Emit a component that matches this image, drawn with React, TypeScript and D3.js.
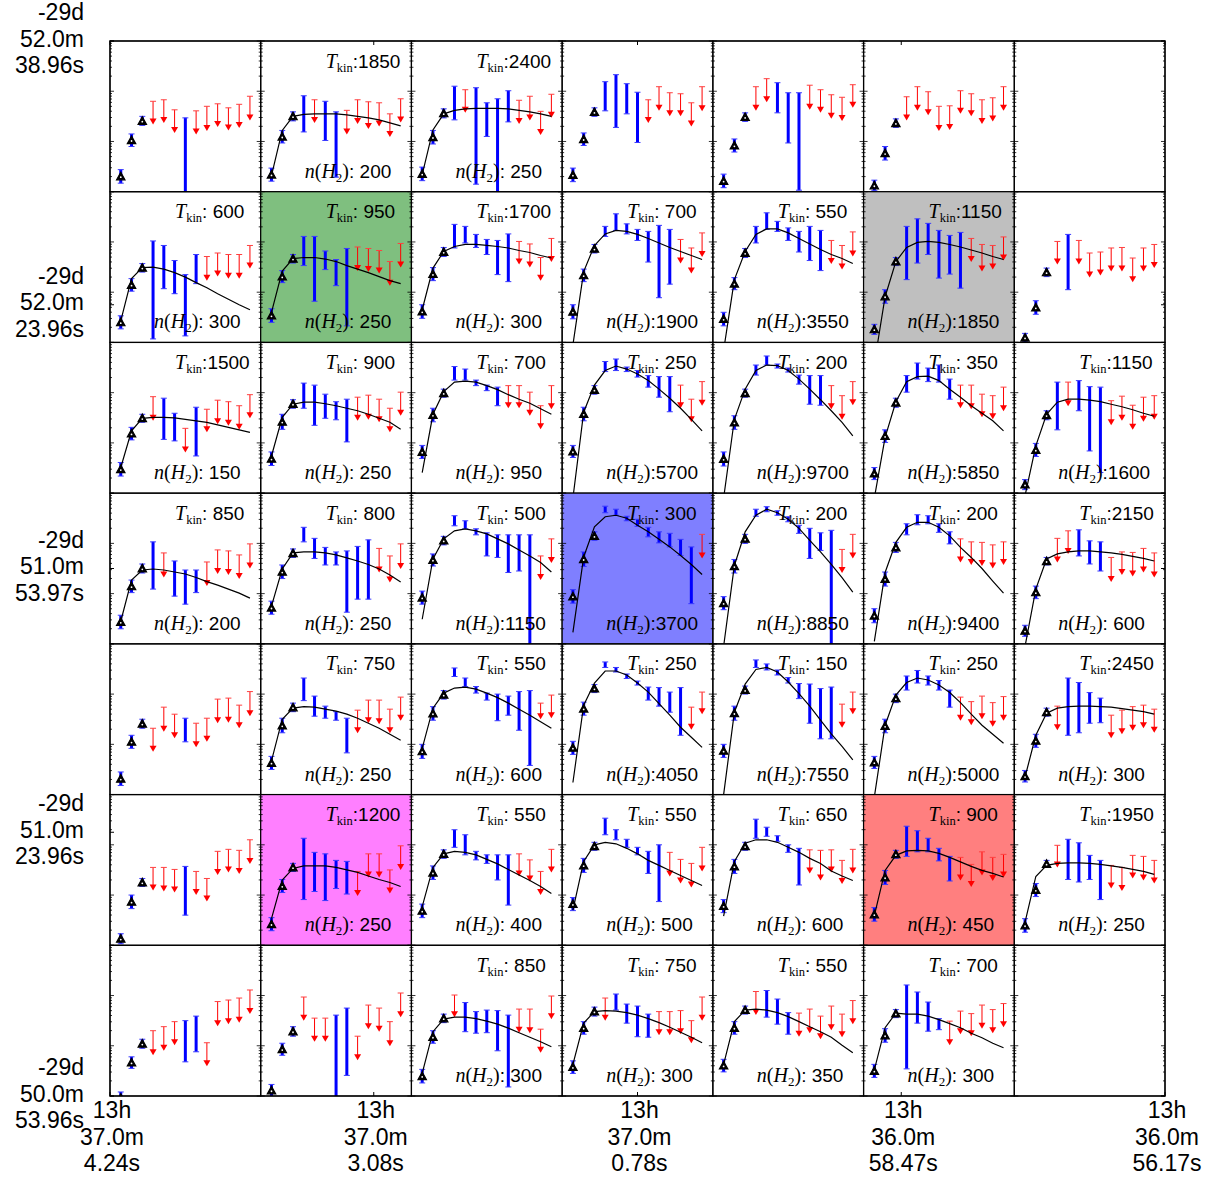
import React from 'react';
import * as d3 from 'd3';

// CO rotational ladder J_up = 1..13 in every panel
const jUp = d3.range(1, 14);

// Fitted parameters per panel (row-major, 7x7), null = no fit
const tkin: (number | null)[] = [
  null, 1850, 2400, null, null, null, null,
  600, 950, 1700, 700, 550, 1150, null,
  1500, 900, 700, 250, 200, 350, 1150,
  850, 800, 500, 300, 200, 200, 2150,
  null, 750, 550, 250, 150, 250, 2450,
  null, 1200, 550, 550, 650, 900, 1950,
  null, null, 850, 750, 550, 700, null,
];
const nh2: (number | null)[] = [
  null, 200, 250, null, null, null, null,
  300, 250, 300, 1900, 3550, 1850, null,
  150, 250, 950, 5700, 9700, 5850, 1600,
  200, 250, 1150, 3700, 8850, 9400, 600,
  null, 250, 600, 4050, 7550, 5000, 300,
  null, 250, 400, 500, 600, 450, 250,
  null, null, 300, 300, 350, 300, null,
];
// highlighted panels: g = green, k = grey, b = blue, m = magenta, r = red
const highlight: string[] = [
  '', '', '', '', '', '', '',
  '', 'g', '', '', '', 'k', '',
  '', '', '', '', '', '', '',
  '', '', '', 'b', '', '', '',
  '', '', '', '', '', '', '',
  '', 'm', '', '', '', 'r', '',
  '', '', '', '', '', '', '',
];
// d = detection, u = upper limit
const kinds: string[] = [
  'ddduuuduuuuuu', 'ddddudduuuuuu', 'ddddudddduuuu', 'ddddddduuuuuu', 'ddduuddduuuuu', 'ddduuuuuuuuuu', '',
  'dddddddduuuuu', 'dddddddduuuuu', 'ddddddddduuuu', 'dddddddddduuu', 'dddddddddduuu', 'ddddddddduuuu', 'ddduduuuuuuuu',
  'dddudduduuuuu', 'dddddddduuuuu', 'dddddddduuuuu', 'dddddddddduuu', 'dddddddddduuu', 'dddddddduuuuu', 'dddduddduuuuu',
  'dddduddduuuuu', 'dddddddddduuu', 'ddddddddddduu', 'ddddddddddddu', 'ddddddddddduu', 'dddddddduuuuu', 'ddduuddduuuuu',
  'ddduuuduuuuuu', 'dddddddduuuuu', 'ddddddddddduu', 'ddddddddddduu', 'ddddddddddduu', 'dddddddduuuuu', 'dddudddduuuuu',
  'ddduuuduuuuuu', 'dddddddduuuuu', 'ddddddddduuuu', 'ddddddddduuuu', 'dddddddduuuuu', 'dddddddduuuuu', 'dddudddduuuuu',
  'ddduuudduuuuu', 'ddduuudduuuuu', 'ddduddddduuuu', 'dddudddduuuuu', 'ddduddduuuuuu', 'ddddddduuuuuu', '',
];
// log10 of the lower end (error bar bottom / arrow tip)
const logLo: number[][] = [
  [-2.83,-2.10,-1.68,-1.66,-1.63,-1.83,-4,-1.86,-1.79,-1.71,-1.78,-1.73,-1.58],
  [-2.79,-2.03,-1.59,-1.81,-1.63,-1.98,-2.71,-1.86,-1.65,-1.75,-1.70,-1.91,-1.62],
  [-2.78,-2.05,-1.53,-1.57,-1.43,-2.85,-1.90,-4,-1.61,-1.65,-1.58,-1.87,-1.53],
  [-2.80,-2.08,-1.50,-1.39,-1.72,-1.45,-2.02,-1.63,-1.39,-1.50,-1.50,-1.70,-1.40],
  [-2.92,-2.21,-1.60,-1.39,-1.22,-1.43,-2.03,-2.97,-1.37,-1.43,-1.55,-1.59,-1.33],
  [-2.98,-2.37,-1.72,-1.58,-1.39,-1.48,-1.79,-1.77,-1.45,-1.50,-1.65,-1.60,-1.39],
  [],
  [-2.73,-1.98,-1.60,-2.93,-1.93,-2.03,-2.87,-1.83,-1.77,-1.69,-1.73,-1.73,-1.53],
  [-2.60,-1.81,-1.42,-1.47,-2.18,-1.55,-1.87,-2.67,-1.58,-1.60,-1.63,-1.87,-1.51],
  [-2.52,-1.77,-1.29,-1.12,-1.02,-1.11,-1.25,-1.65,-1.79,-1.45,-1.51,-1.77,-1.40],
  [-2.53,-1.79,-1.22,-0.89,-0.77,-0.84,-0.97,-1.40,-2.11,-1.84,-1.43,-1.63,-1.30],
  [-2.67,-1.95,-1.31,-1.02,-0.75,-0.79,-0.97,-1.20,-1.37,-1.57,-1.44,-1.55,-1.29],
  [-2.84,-2.22,-1.47,-1.75,-1.42,-1.25,-1.72,-1.64,-1.92,-1.40,-1.59,-1.55,-1.37],
  [-2.99,-2.44,-1.69,-1.45,-1.95,-1.45,-1.71,-1.67,-1.59,-1.59,-1.80,-1.59,-1.52],
  [-2.66,-1.94,-1.59,-1.56,-1.93,-1.96,-2.19,-2.26,-1.79,-1.63,-1.66,-1.74,-1.51],
  [-2.45,-1.73,-1.31,-1.31,-1.65,-1.51,-1.54,-1.98,-1.56,-1.54,-1.59,-1.79,-1.46],
  [-2.31,-1.58,-1.09,-0.75,-0.75,-0.86,-0.96,-1.26,-1.31,-1.31,-1.46,-1.73,-1.33],
  [-2.29,-1.56,-1.03,-0.58,-0.56,-0.58,-0.69,-0.89,-1.09,-1.38,-1.31,-1.59,-1.26],
  [-2.46,-1.73,-1.09,-0.65,-0.45,-0.51,-0.59,-0.83,-1.23,-1.25,-1.33,-1.54,-1.25],
  [-2.73,-1.99,-1.29,-0.99,-0.73,-0.78,-0.79,-1.13,-1.31,-1.33,-1.49,-1.53,-1.37],
  [-2.93,-2.27,-1.54,-1.74,-1.27,-1.36,-2.16,-2.59,-1.65,-1.56,-1.74,-1.58,-1.54],
  [-2.70,-1.98,-1.59,-1.91,-1.68,-2.05,-2.21,-1.98,-1.85,-1.61,-1.63,-1.71,-1.50],
  [-2.41,-1.70,-1.28,-0.97,-1.30,-1.43,-1.43,-2.37,-2.11,-2.11,-1.58,-1.78,-1.51],
  [-2.21,-1.45,-1.03,-0.65,-0.71,-0.83,-1.25,-1.28,-1.58,-1.55,-4,-1.73,-1.39],
  [-2.19,-1.46,-0.94,-0.39,-0.44,-0.55,-0.66,-0.87,-0.99,-1.07,-1.24,-2.20,-1.30],
  [-2.32,-1.59,-1.00,-0.46,-0.37,-0.44,-0.57,-0.80,-1.30,-1.14,-3.20,-1.59,-1.30],
  [-2.58,-1.85,-1.18,-0.83,-0.63,-0.61,-0.78,-1.01,-1.38,-1.43,-1.45,-1.50,-1.43],
  [-2.85,-2.10,-1.43,-1.38,-1.21,-1.25,-1.41,-1.55,-1.77,-1.63,-1.66,-1.58,-1.68],
  [-2.82,-2.08,-1.68,-2.15,-1.75,-1.88,-1.95,-2.06,-1.95,-1.58,-1.57,-1.68,-1.44],
  [-2.50,-1.77,-1.35,-1.13,-1.44,-1.48,-1.52,-2.17,-1.78,-1.58,-1.60,-1.78,-1.53],
  [-2.28,-1.52,-1.10,-0.65,-0.85,-0.98,-1.12,-1.53,-1.42,-1.72,-2.42,-1.50,-1.48],
  [-2.20,-1.42,-0.97,-0.47,-0.56,-0.69,-0.82,-1.12,-1.24,-1.36,-1.82,-1.71,-1.40],
  [-2.26,-1.52,-1.00,-0.47,-0.52,-0.62,-0.78,-1.09,-1.58,-1.89,-1.89,-1.67,-1.40],
  [-2.48,-1.77,-1.17,-0.92,-0.78,-0.82,-0.92,-1.26,-1.53,-1.62,-1.50,-1.65,-1.53],
  [-2.75,-2.06,-1.44,-1.72,-1.82,-1.77,-1.58,-1.57,-1.88,-1.80,-1.73,-1.68,-1.77],
  [-2.97,-2.27,-1.83,-1.91,-1.93,-1.95,-2.40,-2.00,-2.13,-1.60,-1.55,-1.58,-1.38],
  [-2.71,-1.95,-1.53,-2.09,-1.93,-2.11,-1.87,-1.98,-2.02,-1.65,-1.65,-1.97,-1.50],
  [-2.45,-1.69,-1.27,-1.05,-1.20,-1.30,-1.37,-1.70,-2.20,-1.63,-1.73,-2.00,-1.55],
  [-2.31,-1.55,-1.11,-0.80,-0.90,-1.05,-1.20,-1.57,-2.13,-1.63,-1.77,-1.85,-1.53],
  [-2.35,-1.57,-1.11,-0.87,-0.83,-0.93,-1.15,-1.80,-1.57,-1.71,-1.55,-1.78,-1.57],
  [-2.52,-1.79,-1.27,-1.23,-1.14,-1.14,-1.32,-1.72,-1.71,-1.84,-1.61,-1.72,-1.65],
  [-2.74,-2.03,-1.45,-1.45,-1.69,-1.74,-1.69,-2.09,-1.87,-1.92,-1.67,-1.71,-1.77],
  [-3.16,-2.45,-2.05,-2.19,-2.10,-1.99,-2.32,-2.12,-2.41,-1.61,-1.57,-1.54,-1.37],
  [-3.01,-2.19,-1.81,-1.50,-1.92,-1.92,-4,-2.59,-2.29,-1.67,-1.72,-2.01,-1.43],
  [-2.74,-1.95,-1.54,-1.43,-1.72,-1.75,-1.74,-2.10,-2.82,-1.74,-1.75,-2.14,-1.47],
  [-2.55,-1.77,-1.41,-1.50,-1.29,-1.55,-1.82,-1.83,-1.79,-1.79,-1.77,-1.95,-1.50],
  [-2.52,-1.77,-1.37,-1.39,-1.43,-1.57,-1.77,-1.82,-1.75,-1.87,-1.69,-1.83,-1.57],
  [-2.63,-1.93,-1.44,-2.46,-1.55,-1.71,-1.68,-1.99,-1.77,-1.81,-1.66,-1.75,-1.63],
  [],
];
// log10 of the upper end (error bar top / limit value)
const logHi: number[][] = [
  [-2.56,-1.85,-1.50,-1.20,-1.17,-1.37,-1.53,-1.39,-1.30,-1.25,-1.33,-1.26,-1.10],
  [-2.53,-1.78,-1.41,-1.09,-1.17,-1.20,-1.41,-1.38,-1.17,-1.21,-1.23,-1.45,-1.15],
  [-2.51,-1.78,-1.35,-0.90,-0.97,-0.93,-1.23,-1.15,-0.99,-1.18,-1.10,-1.40,-1.06],
  [-2.53,-1.83,-1.33,-0.81,-0.67,-0.85,-1.02,-1.17,-0.91,-1.03,-1.05,-1.23,-0.91],
  [-2.65,-1.95,-1.43,-0.91,-0.75,-0.83,-1.03,-1.03,-0.88,-0.97,-1.07,-1.12,-0.87],
  [-2.77,-2.10,-1.55,-1.11,-0.91,-1.01,-1.30,-1.29,-0.99,-1.05,-1.17,-1.13,-0.91],
  [],
  [-2.47,-1.73,-1.43,-0.98,-1.07,-1.37,-1.65,-1.25,-1.29,-1.22,-1.25,-1.25,-1.07],
  [-2.33,-1.57,-1.25,-0.89,-0.89,-1.18,-1.35,-1.13,-1.10,-1.13,-1.17,-1.39,-1.03],
  [-2.25,-1.51,-1.11,-0.65,-0.69,-0.85,-0.95,-0.97,-0.84,-0.99,-1.04,-1.31,-0.93],
  [-2.25,-1.54,-1.05,-0.69,-0.44,-0.64,-0.75,-0.79,-0.67,-0.75,-0.95,-1.12,-0.82],
  [-2.40,-1.71,-1.13,-0.69,-0.42,-0.59,-0.72,-0.79,-0.69,-0.77,-0.97,-1.07,-0.80],
  [-2.64,-1.95,-1.31,-0.69,-0.54,-0.63,-0.77,-0.87,-0.81,-0.93,-1.05,-1.07,-0.90],
  [-2.82,-2.17,-1.52,-0.99,-0.85,-0.97,-1.22,-1.20,-1.12,-1.11,-1.32,-1.12,-1.05],
  [-2.39,-1.69,-1.43,-1.08,-1.11,-1.41,-1.71,-1.29,-1.33,-1.15,-1.18,-1.26,-1.04],
  [-2.18,-1.43,-1.14,-0.81,-0.85,-1.03,-1.18,-1.13,-1.09,-1.05,-1.13,-1.31,-0.99],
  [-2.05,-1.31,-0.93,-0.48,-0.53,-0.75,-0.85,-0.89,-0.86,-0.86,-0.99,-1.26,-0.86],
  [-2.05,-1.29,-0.86,-0.38,-0.33,-0.49,-0.56,-0.66,-0.68,-0.68,-0.85,-1.13,-0.78],
  [-2.18,-1.46,-0.93,-0.45,-0.27,-0.43,-0.51,-0.65,-0.66,-0.66,-0.86,-1.06,-0.78],
  [-2.49,-1.74,-1.11,-0.66,-0.41,-0.51,-0.45,-0.73,-0.85,-0.85,-1.03,-1.06,-0.89],
  [-2.73,-2.01,-1.36,-0.79,-0.79,-0.76,-0.88,-0.89,-1.16,-1.07,-1.25,-1.09,-1.06],
  [-2.43,-1.73,-1.41,-0.97,-1.19,-1.35,-1.53,-1.53,-1.37,-1.13,-1.15,-1.23,-1.01],
  [-2.15,-1.43,-1.11,-0.68,-0.90,-1.08,-1.17,-1.15,-1.06,-0.93,-1.10,-1.25,-1.01],
  [-1.95,-1.21,-0.86,-0.45,-0.55,-0.71,-0.79,-0.83,-0.83,-0.83,-0.83,-1.25,-0.91],
  [-1.92,-1.17,-0.77,-0.26,-0.32,-0.46,-0.52,-0.68,-0.77,-0.80,-0.92,-1.07,-0.82],
  [-2.06,-1.32,-0.82,-0.32,-0.27,-0.35,-0.47,-0.64,-0.70,-0.79,-0.74,-1.12,-0.82],
  [-2.30,-1.57,-0.98,-0.61,-0.43,-0.45,-0.61,-0.77,-0.91,-0.97,-0.98,-1.03,-0.97],
  [-2.63,-1.85,-1.28,-0.90,-0.75,-0.73,-0.95,-0.97,-1.28,-1.17,-1.18,-1.10,-1.19],
  [-2.55,-1.82,-1.50,-1.68,-1.26,-1.40,-1.48,-1.58,-1.48,-1.10,-1.08,-1.22,-0.95],
  [-2.24,-1.48,-1.18,-0.68,-1.04,-1.24,-1.35,-1.48,-1.32,-1.12,-1.12,-1.30,-1.06],
  [-2.00,-1.25,-0.93,-0.48,-0.68,-0.85,-0.98,-1.00,-1.04,-0.95,-0.93,-1.18,-1.02],
  [-1.94,-1.16,-0.81,-0.36,-0.47,-0.60,-0.74,-0.86,-0.87,-0.96,-0.87,-1.26,-0.96],
  [-2.00,-1.24,-0.84,-0.32,-0.40,-0.52,-0.67,-0.79,-0.80,-0.89,-0.86,-1.20,-0.96],
  [-2.24,-1.50,-1.00,-0.64,-0.53,-0.64,-0.73,-0.92,-1.06,-1.15,-1.04,-1.17,-1.05],
  [-2.52,-1.80,-1.28,-1.24,-0.68,-0.77,-0.97,-1.08,-1.42,-1.32,-1.25,-1.22,-1.30],
  [-2.77,-2.00,-1.67,-1.45,-1.45,-1.49,-1.43,-1.53,-1.67,-1.13,-1.09,-1.11,-0.90],
  [-2.45,-1.69,-1.37,-0.87,-1.15,-1.18,-1.31,-1.33,-1.53,-1.18,-1.18,-1.50,-1.02],
  [-2.18,-1.42,-1.10,-0.70,-0.80,-1.13,-1.20,-1.20,-1.20,-1.18,-1.30,-1.53,-1.09],
  [-2.05,-1.27,-0.95,-0.47,-0.70,-0.89,-1.05,-1.13,-1.00,-1.15,-1.29,-1.37,-1.05],
  [-2.09,-1.29,-0.95,-0.49,-0.65,-0.82,-1.00,-1.07,-1.10,-1.11,-1.10,-1.31,-1.09],
  [-2.25,-1.51,-1.11,-0.63,-0.72,-0.87,-1.07,-1.23,-1.25,-1.39,-1.14,-1.25,-1.19],
  [-2.47,-1.77,-1.31,-1.01,-0.89,-0.96,-1.21,-1.31,-1.41,-1.45,-1.21,-1.23,-1.31],
  [-2.92,-2.22,-1.87,-1.70,-1.62,-1.52,-1.50,-1.41,-1.94,-1.12,-1.09,-1.05,-0.89],
  [-2.77,-1.95,-1.62,-1.03,-1.45,-1.45,-1.39,-1.25,-1.81,-1.19,-1.25,-1.52,-0.95],
  [-2.47,-1.70,-1.37,-0.99,-1.14,-1.32,-1.29,-1.30,-1.39,-1.27,-1.27,-1.67,-1.01],
  [-2.30,-1.52,-1.23,-1.05,-0.97,-1.17,-1.21,-1.37,-1.32,-1.32,-1.30,-1.50,-1.03],
  [-2.27,-1.52,-1.21,-0.92,-0.90,-1.07,-1.34,-1.35,-1.27,-1.41,-1.21,-1.37,-1.10],
  [-2.37,-1.66,-1.28,-0.79,-0.93,-1.13,-1.46,-1.51,-1.31,-1.36,-1.19,-1.28,-1.16],
  [],
];
// log10 of the best-fit model ladder, null = no fit
const logModel: (number[] | null)[] = [
  null,
  [-2.68,-1.78,-1.50,-1.46,-1.45,-1.45,-1.45,-1.47,-1.50,-1.53,-1.57,-1.63,-1.69],
  [-2.66,-1.77,-1.45,-1.38,-1.35,-1.34,-1.34,-1.34,-1.35,-1.38,-1.41,-1.45,-1.50],
  null, null, null, null,
  [-2.57,-1.73,-1.51,-1.50,-1.54,-1.61,-1.70,-1.81,-1.91,-2.03,-2.14,-2.25,-2.35],
  [-2.40,-1.58,-1.33,-1.31,-1.31,-1.34,-1.39,-1.47,-1.54,-1.61,-1.69,-1.77,-1.83],
  [-2.35,-1.52,-1.19,-1.09,-1.05,-1.05,-1.07,-1.09,-1.12,-1.17,-1.21,-1.27,-1.32],
  [-3.05,-1.59,-1.07,-0.84,-0.77,-0.79,-0.85,-0.93,-1.02,-1.11,-1.19,-1.27,-1.35],
  [-3.16,-1.75,-1.19,-0.85,-0.74,-0.74,-0.82,-0.93,-1.04,-1.15,-1.25,-1.33,-1.43],
  [-3.42,-2.09,-1.39,-1.11,-1.01,-0.99,-1.01,-1.05,-1.10,-1.16,-1.22,-1.29,-1.35],
  null,
  [-2.49,-1.76,-1.51,-1.49,-1.49,-1.50,-1.53,-1.56,-1.59,-1.64,-1.69,-1.74,-1.79],
  [-2.26,-1.49,-1.23,-1.19,-1.19,-1.22,-1.26,-1.31,-1.36,-1.43,-1.51,-1.59,-1.73],
  [-2.59,-1.43,-0.98,-0.79,-0.77,-0.79,-0.86,-0.94,-1.04,-1.13,-1.21,-1.32,-1.43],
  [-3.10,-1.39,-0.85,-0.56,-0.47,-0.53,-0.63,-0.76,-0.93,-1.11,-1.31,-1.53,-1.76],
  [-3.10,-1.53,-0.93,-0.56,-0.45,-0.46,-0.56,-0.73,-0.93,-1.14,-1.36,-1.59,-1.86],
  [-3.10,-1.89,-1.18,-0.78,-0.68,-0.67,-0.76,-0.93,-1.09,-1.26,-1.41,-1.56,-1.76],
  [-3.05,-2.06,-1.43,-1.19,-1.13,-1.13,-1.15,-1.18,-1.23,-1.28,-1.34,-1.41,-1.47],
  [-2.55,-1.73,-1.53,-1.51,-1.53,-1.57,-1.61,-1.68,-1.76,-1.83,-1.91,-1.99,-2.09],
  [-2.25,-1.51,-1.19,-1.17,-1.17,-1.19,-1.23,-1.29,-1.35,-1.42,-1.51,-1.63,-1.77],
  [-2.51,-1.31,-0.91,-0.75,-0.71,-0.75,-0.81,-0.91,-1.01,-1.13,-1.25,-1.38,-1.57],
  [-2.77,-1.27,-0.67,-0.47,-0.44,-0.50,-0.64,-0.77,-0.92,-1.07,-1.24,-1.42,-1.62],
  [-3.05,-1.44,-0.77,-0.44,-0.32,-0.39,-0.52,-0.70,-0.94,-1.17,-1.42,-1.68,-1.97],
  [-2.95,-1.58,-0.98,-0.68,-0.58,-0.58,-0.68,-0.85,-1.08,-1.28,-1.50,-1.75,-1.99],
  [-3.05,-1.91,-1.31,-1.21,-1.17,-1.15,-1.15,-1.17,-1.19,-1.22,-1.26,-1.30,-1.35],
  null,
  [-2.33,-1.50,-1.28,-1.25,-1.26,-1.30,-1.34,-1.40,-1.48,-1.58,-1.68,-1.80,-1.92],
  [-2.08,-1.28,-0.98,-0.88,-0.86,-0.90,-0.98,-1.07,-1.18,-1.30,-1.42,-1.55,-1.68],
  [-2.76,-1.22,-0.78,-0.54,-0.54,-0.62,-0.78,-0.96,-1.19,-1.42,-1.66,-1.86,-2.06],
  [-3.00,-1.36,-0.80,-0.51,-0.47,-0.56,-0.76,-0.99,-1.24,-1.52,-1.79,-2.04,-2.31],
  [-3.05,-1.62,-1.02,-0.77,-0.68,-0.72,-0.82,-0.97,-1.17,-1.40,-1.62,-1.80,-1.98],
  [-2.65,-1.82,-1.38,-1.28,-1.25,-1.24,-1.24,-1.25,-1.26,-1.29,-1.32,-1.35,-1.40],
  null,
  [-2.47,-1.70,-1.47,-1.42,-1.42,-1.42,-1.45,-1.50,-1.55,-1.62,-1.69,-1.75,-1.83],
  [-2.23,-1.45,-1.18,-1.13,-1.15,-1.20,-1.29,-1.38,-1.49,-1.60,-1.71,-1.83,-1.97],
  [-2.30,-1.33,-1.00,-0.95,-0.98,-1.07,-1.18,-1.31,-1.41,-1.51,-1.61,-1.71,-1.81],
  [-2.42,-1.33,-0.97,-0.90,-0.90,-0.95,-1.05,-1.15,-1.27,-1.37,-1.52,-1.62,-1.71],
  [-2.41,-1.51,-1.21,-1.12,-1.11,-1.12,-1.17,-1.25,-1.34,-1.43,-1.51,-1.57,-1.64],
  [-2.54,-1.63,-1.41,-1.37,-1.36,-1.36,-1.37,-1.39,-1.42,-1.45,-1.49,-1.53,-1.59],
  null, null,
  [-2.55,-1.72,-1.47,-1.43,-1.43,-1.46,-1.51,-1.57,-1.65,-1.74,-1.83,-1.92,-2.02],
  [-2.37,-1.55,-1.32,-1.30,-1.31,-1.34,-1.39,-1.46,-1.54,-1.63,-1.73,-1.83,-1.94],
  [-2.37,-1.52,-1.29,-1.27,-1.29,-1.34,-1.42,-1.52,-1.62,-1.72,-1.83,-1.99,-2.14],
  [-2.48,-1.64,-1.35,-1.37,-1.37,-1.41,-1.48,-1.56,-1.64,-1.75,-1.84,-1.95,-2.04],
  null,
];

// Sky-coordinate axis
const gridTicks = [0, 1.75, 3.5, 5.25, 7];
const raLabels = ['13h\n37.0m\n4.24s', '13h\n37.0m\n3.08s', '13h\n37.0m\n0.78s', '13h\n36.0m\n58.47s', '13h\n36.0m\n56.17s'];
const decLabels = ['-29d\n52.0m\n38.96s', '-29d\n52.0m\n23.96s', '-29d\n51.0m\n53.97s', '-29d\n51.0m\n23.96s', '-29d\n50.0m\n53.96s'];

const HL_FILL: Record<string, string> = { g: '#7fbf7f', k: '#bfbfbf', b: '#7f7fff', m: '#ff7fff', r: '#ff7f7f' };
const SANS = 'Liberation Sans, Arial, sans-serif';
const SERIF = 'Liberation Serif, Times New Roman, serif';

export default function App() {
  const W = 1210, H = 1177;
  const gridLeft = 110, gridTop = 41, gridSize = 1055;
  const nCols = 7;
  const cell = gridSize / nCols;

  const xJ = d3.scaleLinear().domain([0, 14]).range([0, cell]);
  const yV = d3.scaleLog().domain([1e-3, 1]).range([cell, 0]);
  const yL = (v: number) => yV(Math.pow(10, v));
  const gx = d3.scaleLinear().domain([0, 7]).range([gridLeft, gridLeft + gridSize]);
  const gy = d3.scaleLinear().domain([0, 7]).range([gridTop, gridTop + gridSize]);

  const yTicks = yV.ticks();
  const isMajor = (t: number) => Math.abs(Math.log10(t) - Math.round(Math.log10(t))) < 1e-6;

  const line = d3.line<number>().x((_, i) => xJ(jUp[i])).y((v) => yL(v));
  const pad4 = (v: number) => String(v).padStart(4, ' ');

  const panels = d3.range(49).map((i) => {
    const r = Math.floor(i / nCols), c = i % nCols;
    const x0 = gx(c), y0 = gy(r);
    const k = kinds[i];
    const lo = logLo[i], hi = logHi[i];
    const m = logModel[i];
    const hl = highlight[i];
    return (
      <g key={i} transform={`translate(${x0},${y0})`}>
        <clipPath id={`clip${i}`}>
          <rect x={0} y={0} width={cell} height={cell} />
        </clipPath>
        {hl && <rect x={0} y={0} width={cell} height={cell} fill={HL_FILL[hl]} />}
        <g clipPath={`url(#clip${i})`}>
          {k.split('').map((kind, p) => {
            const x = xJ(jUp[p]);
            const yLo = yL(lo[p]), yHi = yL(hi[p]);
            if (kind === 'd') {
              return (
                <g key={p}>
                  <line x1={x} x2={x} y1={yLo} y2={yHi} stroke="#0000ff" strokeWidth={3} />
                  <line x1={x - 3} x2={x + 3} y1={yLo} y2={yLo} stroke="#3a3aff" strokeWidth={1} />
                  <line x1={x - 3} x2={x + 3} y1={yHi} y2={yHi} stroke="#3a3aff" strokeWidth={1} />
                </g>
              );
            }
            return (
              <g key={p}>
                <line x1={x} x2={x} y1={yHi} y2={yLo - 5} stroke="#ff0000" strokeWidth={1} />
                <line x1={x - 3} x2={x + 3} y1={yHi} y2={yHi} stroke="#ff4040" strokeWidth={1} />
                <path d={`M${x - 3.5},${yLo - 6}L${x + 3.5},${yLo - 6}L${x},${yLo}Z`} fill="#ff0000" />
              </g>
            );
          })}
          {m && <path d={line(m) || ''} fill="none" stroke="#000" strokeWidth={1.2} />}
          {k.split('').slice(0, 3).map((_, p) => {
            const x = xJ(jUp[p]);
            const y = yL((lo[p] + hi[p]) / 2);
            return (
              <g key={`t${p}`}>
                <path d={`M${x},${y - 4.2}L${x - 4.2},${y + 3.4}L${x + 4.2},${y + 3.4}Z`}
                  fill="#000" stroke="#000" strokeWidth={1.2} strokeLinejoin="miter" />
                <circle cx={x} cy={y + 0.8} r={0.9} fill="#fff" />
              </g>
            );
          })}
        </g>
        {yTicks.map((t, ti) => {
          const y = yV(t);
          const len = isMajor(t) ? 4 : 2;
          return (
            <g key={`yt${ti}`} stroke="#000" strokeWidth={0.8}>
              <line x1={0} x2={len} y1={y} y2={y} />
              <line x1={cell} x2={cell - len} y1={y} y2={y} />
            </g>
          );
        })}
        <rect x={0} y={0} width={cell} height={cell} fill="none" stroke="#000" strokeWidth={1.2} />
        {tkin[i] !== null && (
          <text x={65} y={26.5} fontSize={19} style={{ whiteSpace: 'pre' }} fill="#000">
            <tspan fontFamily={SERIF} fontStyle="italic" fontSize={20}>T</tspan>
            <tspan fontFamily={SERIF} fontSize={12.5} dy={4}>kin</tspan>
            <tspan fontFamily={SANS} dy={-4}>{':' + pad4(tkin[i] as number)}</tspan>
          </text>
        )}
        {nh2[i] !== null && (
          <text x={44} y={cell - 14} fontSize={19} style={{ whiteSpace: 'pre' }} fill="#000">
            <tspan fontFamily={SERIF} fontStyle="italic" fontSize={20}>n</tspan>
            <tspan fontFamily={SERIF} fontSize={20}>(</tspan>
            <tspan fontFamily={SERIF} fontStyle="italic" fontSize={20}>H</tspan>
            <tspan fontFamily={SERIF} fontSize={13} dy={4}>2</tspan>
            <tspan fontFamily={SERIF} fontSize={20} dy={-4}>)</tspan>
            <tspan fontFamily={SANS}>{':' + pad4(nh2[i] as number)}</tspan>
          </text>
        )}
      </g>
    );
  });

  return (
    <svg width={W} height={H} style={{ position: 'absolute', left: 0, top: 0, background: '#fff' }}>
      <rect x={0} y={0} width={W} height={H} fill="#fff" />
      {panels}
      <rect x={gridLeft} y={gridTop} width={gridSize} height={gridSize} fill="none" stroke="#000" strokeWidth={1.2} />
      {gridTicks.map((t, i) => (
        <g key={`gt${i}`} stroke="#000" strokeWidth={1}>
          <line x1={gx(t)} x2={gx(t)} y1={gridTop} y2={gridTop + 4} />
          <line x1={gx(t)} x2={gx(t)} y1={gridTop + gridSize} y2={gridTop + gridSize - 4} />
          <line x1={gridLeft} x2={gridLeft + 4} y1={gy(t)} y2={gy(t)} />
          <line x1={gridLeft + gridSize} x2={gridLeft + gridSize - 4} y1={gy(t)} y2={gy(t)} />
        </g>
      ))}
      {gridTicks.map((t, i) => (
        <text key={`xl${i}`} x={gx(t) + 2} y={gridTop + gridSize + 22} fontFamily={SANS} fontSize={23} textAnchor="middle" fill="#000">
          {raLabels[i].split('\n').map((s, li) => (
            <tspan key={li} x={gx(t) + 2} dy={li === 0 ? 0 : 26.5}>{s}</tspan>
          ))}
        </text>
      ))}
      {gridTicks.map((t, i) => (
        <text key={`yl${i}`} x={84} y={gy(t) + 5.5 - 26.5} fontFamily={SANS} fontSize={23} textAnchor="end" fill="#000">
          {decLabels[i].split('\n').map((s, li) => (
            <tspan key={li} x={84} dy={li === 0 ? 0 : 26.5}>{s}</tspan>
          ))}
        </text>
      ))}
    </svg>
  );
}
